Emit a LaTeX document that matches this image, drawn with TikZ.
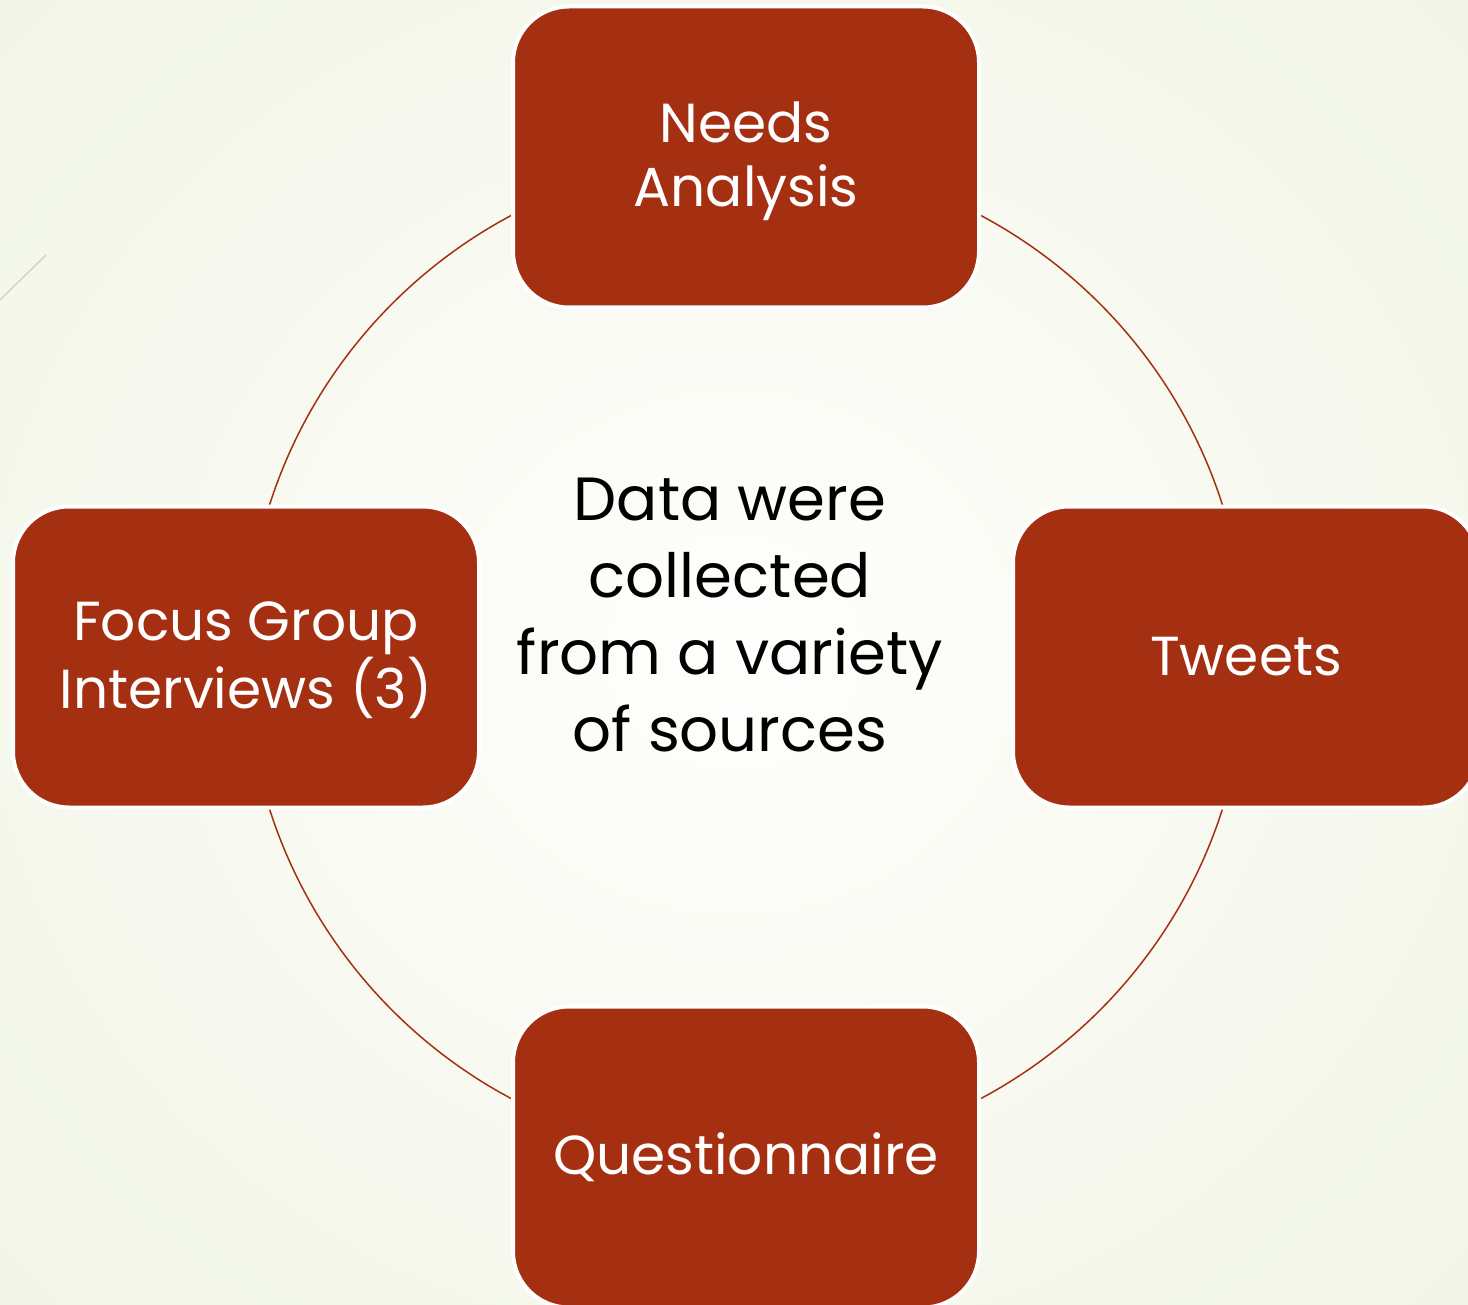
\documentclass[tikz,border=0pt]{standalone}
\usepackage{fontspec}
\setmainfont{Poppins}
\definecolor{boxred}{HTML}{A52F11}
\definecolor{bgedge}{HTML}{F2F5E7}
\definecolor{bgmid}{HTML}{FEFEFC}
\definecolor{deco}{HTML}{CFCFC6}
\begin{document}
\begin{tikzpicture}[x=0.5pt,y=-0.5pt,
  srcbox/.style={rectangle, rounded corners=28pt, fill=boxred, draw=white,
    line width=2pt, minimum width=233pt, minimum height=150.5pt},
  boxtext/.style={text=white, align=center, font=\fontsize{27.5}{32}\selectfont},
  ring/.style={draw=boxred, line width=0.75pt}]
\useasboundingbox (0,0) rectangle (1468,1305);
\fill[inner color=bgmid, outer color=bgedge] (-300,-300) rectangle (1768,1605);
\draw[deco, line width=0.6pt] (0,300) -- (46,255);
\coordinate (c) at (746,657);
\draw[ring] (c) circle[radius=500];
\node[srcbox] (needs) at (746,157) {};
\node[srcbox] (focus) at (246,657) {};
\node[srcbox] (tweets) at (1246,657) {};
\node[srcbox] (quest) at (746,1157) {};
\node[boxtext] (needsT) at (746,161) {Needs\\Analysis};
\node[boxtext] (focusT) at (246,660) {Focus Group\\Interviews (3)};
\node[boxtext] (tweetsT) at (1246,657) {Tweets};
\node[boxtext] (questT) at (746,1157) {Questionnaire};
\node[align=center, text=black, font=\fontsize{30.5}{38.5}\selectfont] (center) at (730,615)
  {Data were\\collected\\from a variety\\of sources};
\end{tikzpicture}
\end{document}
